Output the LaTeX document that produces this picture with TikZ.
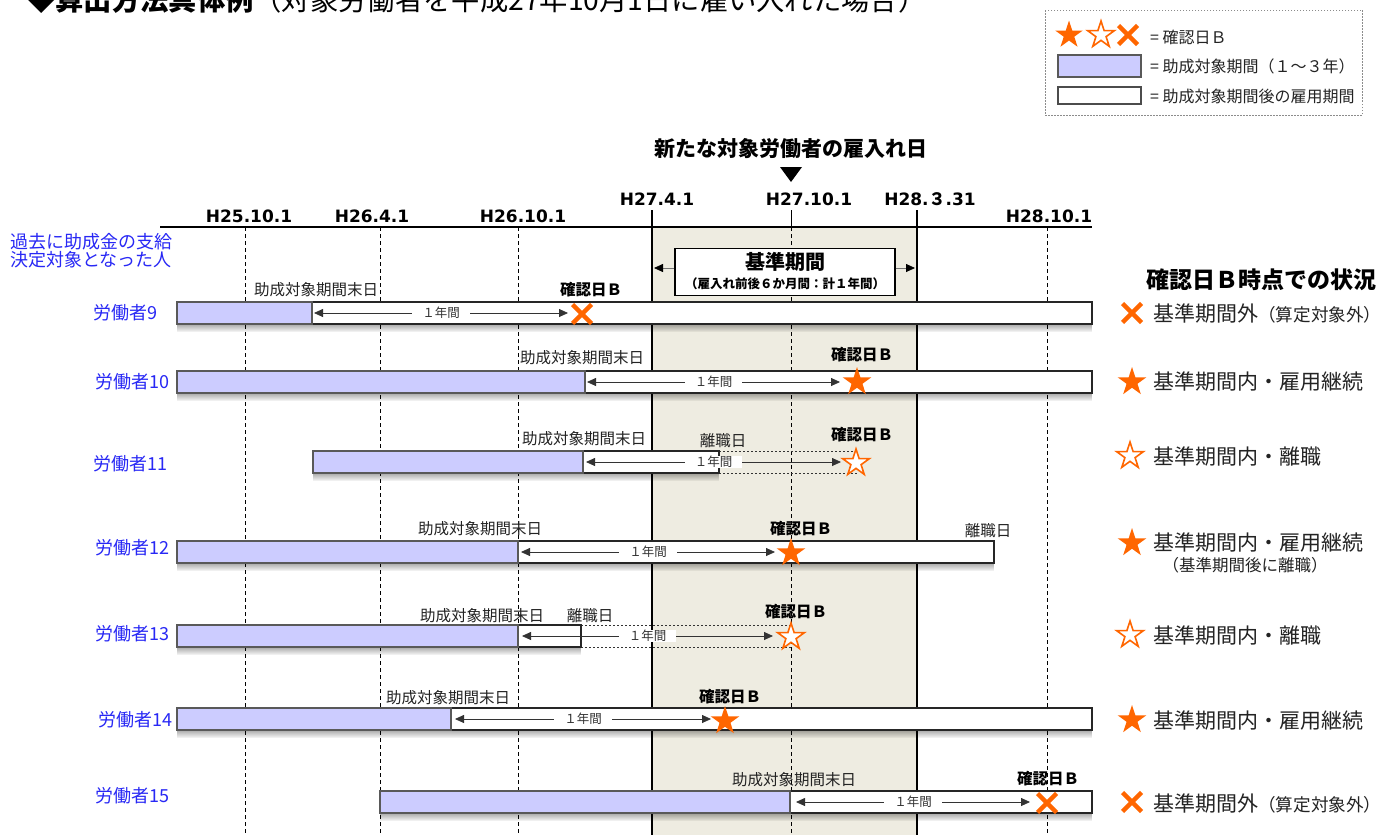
\documentclass[tikz,border=0pt]{standalone}
\usepackage{fontspec}
\setmainfont{Noto Sans CJK JP}
\newfontfamily\dvfont{DejaVu Sans}
\usetikzlibrary{arrows.meta,shapes.geometric}
\definecolor{orng}{RGB}{255,102,0}
\definecolor{lav}{RGB}{204,204,255}
\definecolor{beige}{RGB}{238,236,225}
\definecolor{wblue}{RGB}{40,40,245}
\definecolor{txt}{RGB}{35,35,35}
\newcommand\fs[1]{\fontsize{#1}{#1}\selectfont}
\tikzset{
  lavbar/.style={draw=black!65, line width=1.3pt, fill=lav},
  whtbar/.style={draw=black!85, line width=1.2pt, fill=white},
  note/.style={font=\fs{15.5}, text=txt, inner sep=0pt},
  lgnote/.style={font=\fs{16}, text=txt, inner sep=0pt, anchor=west},
  chk/.style={font=\bfseries\fs{15.5}, text=black, inner sep=0pt},
  wlabel/.style={font=\fs{18}, text=wblue, anchor=west, inner sep=0pt},
  fstar/.style={star, star points=5, star point ratio=2.618, minimum size=30pt, inner sep=0pt, fill=orng},
  ostar/.style={star, star points=5, star point ratio=2.618, minimum size=28pt, inner sep=0pt, fill=white, draw=orng, line width=1.6pt},
  yr/.style={{Triangle[length=9pt,width=8pt]}-{Triangle[length=9pt,width=8pt]}, draw=black!80, line width=0.8pt},
  yrtxt/.style={font=\fs{12.5}, fill=white, inner xsep=10pt, inner ysep=0pt, text=black!80},
  status/.style={font=\fs{21}, anchor=west, inner sep=0pt, text=txt},
  dashv/.style={dash pattern=on 4pt off 3pt, line width=0.9pt, black},
  solidv/.style={line width=2pt, black},
  crossl/.style={orng, line width=4.5pt},
  dotl/.style={dash pattern=on 2pt off 2pt, line width=1pt, black!80},
  datel/.style={font=\dvfont\bfseries\fs{17}, inner sep=0pt},
  xmk/.pic={\draw[crossl] (-9.5,-9.5) -- (9.5,9.5) (-9.5,9.5) -- (9.5,-9.5);}
}
\begin{document}
\begin{tikzpicture}[x=1pt,y=-1pt]
\useasboundingbox (0,0) rectangle (1381,835);
\fill[white] (0,0) rectangle (1381,835);

% title (cut at the top, as in the reference)
\node[anchor=base west, inner sep=0pt, font=\fs{28.3}] (title) at (27,10) {{\bfseries ◆算出方法具体例}（対象労働者を平成27年10月1日に雇い入れた場合）};

% legend
\draw[black!45, dash pattern=on 1.5pt off 1.5pt, line width=0.8pt] (1045,10) rectangle (1362,115);
\node[fstar, minimum size=29pt] (lgs1) at (1069,35) {};
\node[ostar, minimum size=28pt] (lgs2) at (1101,35) {};
\pic (lgx) at (1128,35) {xmk};
\node[lgnote] (lgt1) at (1150,37) {= 確認日Ｂ};
\draw[lavbar] (1058,55) rectangle (1141,77);
\node[lgnote] (lgt2) at (1150,66) {= 助成対象期間（１～３年）};
\draw[whtbar, draw=black!70] (1058,87) rectangle (1141,104);
\node[lgnote] (lgt3) at (1150,96) {= 助成対象期間後の雇用期間};

% reference period background
\fill[beige] (652,227) rectangle (917,835);

% vertical lines
\foreach \xx in {245,380,518,791,1047} \draw[dashv] (\xx,227) -- (\xx,835);
\draw[solidv] (652,210) -- (652,835);
\draw[solidv] (917,210) -- (917,835);
\draw[line width=1pt, black] (791,210) -- (791,227);

% axis
\draw[line width=2pt, black] (160,227) -- (1092,227);

% header texts
\node[font=\bfseries\fs{21}, inner sep=0pt] (newhire) at (791,149) {新たな対象労働者の雇入れ日};
\fill[black] (780,167) -- (802,167) -- (791,182) -- cycle;
\node[datel] (d1) at (657,199) {H27.4.1};
\node[datel] (d2) at (809,199) {H27.10.1};
\node[datel] (d3) at (930,199) {H28.{\normalfont\bfseries ３}.31};
\node[datel] (d4) at (249,216) {H25.10.1};
\node[datel] (d5) at (372,216) {H26.4.1};
\node[datel] (d6) at (523,216) {H26.10.1};
\node[datel] (d7) at (1049,216) {H28.10.1};

% kijun box
\coordinate (kl) at (654,268);
\coordinate (kr) at (915,268);
\node[draw=black, line width=1.2pt, fill=white, minimum width=220pt, minimum height=47pt, inner sep=0pt] (kbox) at (785,272) {};
\node[font=\bfseries\fs{20}, inner sep=0pt] (ktitle) at (785,262) {基準期間};
\node[font=\bfseries\fs{12.5}, inner sep=0pt] (ksub) at (785,284) {（雇入れ前後６か月間：計１年間）};
\draw[-{Triangle[length=9pt,width=8pt,color=black]}, black!55, line width=0.8pt] (kbox.west |- kl) -- (kl);
\draw[-{Triangle[length=9pt,width=8pt,color=black]}, black!55, line width=0.8pt] (kbox.east |- kr) -- (kr);

% left header and right header
\node[font=\fs{18}, text=wblue, align=left, anchor=west, inner sep=0pt] (past) at (10,251) {\fontsize{18}{17}\selectfont 過去に助成金の支給\\決定対象となった人};
\node[font=\bfseries\fs{23}, inner sep=0pt] (sthead) at (1261,280) {確認日Ｂ時点での状況};

% shadows
\foreach \ya/\xa/\xb in {324/177/1092, 393/177/1092, 473/313/719, 563/177/994, 647/177/581, 730/177/1092, 813/380/1092}{
  \foreach \i [evaluate=\i as \op using 0.30-0.04*\i] in {0,...,6}
    \fill[black, opacity=\op] (\xa,{\ya+1+\i}) rectangle (\xb,{\ya+2+\i});
}

% ---------- worker 9
\draw[whtbar] (312,302) rectangle (1092,324);
\draw[lavbar] (177,302) rectangle (312,324);
\node[wlabel] (w9) at (93,313) {労働者9};
\node[note] (m9) at (316,290) {助成対象期間末日};
\node[chk] (c9) at (591,290) {確認日Ｂ};
\coordinate (s9) at (314,313); \coordinate (e9) at (568,313);
\draw[yr] (s9) -- node[yrtxt] (y9) {１年間} (e9);
\pic (x9) at (582,314) {xmk};

% ---------- worker 10
\draw[whtbar] (585,371) rectangle (1092,393);
\draw[lavbar] (177,371) rectangle (585,393);
\node[wlabel] (w10) at (95,382) {労働者10};
\node[note] (m10) at (582,358) {助成対象期間末日};
\node[chk] (c10) at (862,355) {確認日Ｂ};
\coordinate (s10) at (587,382); \coordinate (e10) at (840,382);
\draw[yr] (s10) -- node[yrtxt] (y10) {１年間} (e10);
\node[fstar] (st10) at (857,382) {};

% ---------- worker 11
\draw[dotl] (719,451) -- (857,451);
\draw[dotl] (719,473) -- (857,473);
\draw[whtbar] (583,451) rectangle (719,473);
\draw[lavbar] (313,451) rectangle (583,473);
\node[wlabel] (w11) at (93,464) {労働者11};
\node[note] (m11) at (584,439) {助成対象期間末日};
\node[note] (r11) at (723,441) {離職日};
\node[chk] (c11) at (862,435) {確認日Ｂ};
\coordinate (s11) at (586,462); \coordinate (e11) at (841,462);
\draw[yr] (s11) -- node[yrtxt] (y11) {１年間} (e11);
\node[ostar] (st11) at (856,463) {};

% ---------- worker 12
\draw[whtbar] (518,541) rectangle (994,563);
\draw[lavbar] (177,541) rectangle (518,563);
\node[wlabel] (w12) at (95,548) {労働者12};
\node[note] (m12) at (480,529) {助成対象期間末日};
\node[chk] (c12) at (801,529) {確認日Ｂ};
\node[note] (r12) at (988,531) {離職日};
\coordinate (s12) at (521,552); \coordinate (e12) at (775,552);
\draw[yr] (s12) -- node[yrtxt] (y12) {１年間} (e12);
\node[fstar] (st12) at (791,553) {};

% ---------- worker 13
\draw[dotl] (581,625) -- (791,625);
\draw[dotl] (581,647) -- (791,647);
\draw[whtbar] (518,625) rectangle (581,647);
\draw[lavbar] (177,625) rectangle (518,647);
\node[wlabel] (w13) at (95,634) {労働者13};
\node[note] (m13) at (482,616) {助成対象期間末日};
\node[note] (r13) at (590,616) {離職日};
\node[chk] (c13) at (796,612) {確認日Ｂ};
\coordinate (s13) at (522,636); \coordinate (e13) at (773,636);
\draw[yr] (s13) -- node[yrtxt] (y13) {１年間} (e13);
\node[ostar] (st13) at (791,637) {};

% ---------- worker 14
\draw[whtbar] (451,708) rectangle (1092,730);
\draw[lavbar] (177,708) rectangle (451,730);
\node[wlabel] (w14) at (98,720) {労働者14};
\node[note] (m14) at (448,698) {助成対象期間末日};
\node[chk] (c14) at (730,697) {確認日Ｂ};
\coordinate (s14) at (455,719); \coordinate (e14) at (711,719);
\draw[yr] (s14) -- node[yrtxt] (y14) {１年間} (e14);
\node[fstar] (st14) at (725,721) {};

% ---------- worker 15
\draw[whtbar] (790,791) rectangle (1092,813);
\draw[lavbar] (380,791) rectangle (790,813);
\node[wlabel] (w15) at (95,796) {労働者15};
\node[note] (m15) at (794,780) {助成対象期間末日};
\node[chk] (c15) at (1048,779) {確認日Ｂ};
\coordinate (s15) at (796,802); \coordinate (e15) at (1030,802);
\draw[yr] (s15) -- node[yrtxt] (y15) {１年間} (e15);
\pic (x15) at (1047,803) {xmk};

% ---------- status column
\pic (q9) at (1132,313) {xmk};
\node[status] (t9) at (1153,314) {基準期間外{\fs{17.6}（算定対象外）}};
\node[fstar] (q10) at (1132,382) {};
\node[status] (t10) at (1153,382) {基準期間内・雇用継続};
\node[ostar] (q11) at (1130,456) {};
\node[status] (t11) at (1153,457) {基準期間内・離職};
\node[fstar] (q12) at (1132,543) {};
\node[status] (t12) at (1153,543) {基準期間内・雇用継続};
\node[font=\fs{16.5}, text=txt, inner sep=0pt] (t12b) at (1245,565) {（基準期間後に離職）};
\node[ostar] (q13) at (1130,635) {};
\node[status] (t13) at (1153,636) {基準期間内・離職};
\node[fstar] (q14) at (1132,720) {};
\node[status] (t14) at (1153,721) {基準期間内・雇用継続};
\pic (q15) at (1132,802) {xmk};
\node[status] (t15) at (1153,803) {基準期間外{\fs{17.6}（算定対象外）}};
\end{tikzpicture}
\end{document}
